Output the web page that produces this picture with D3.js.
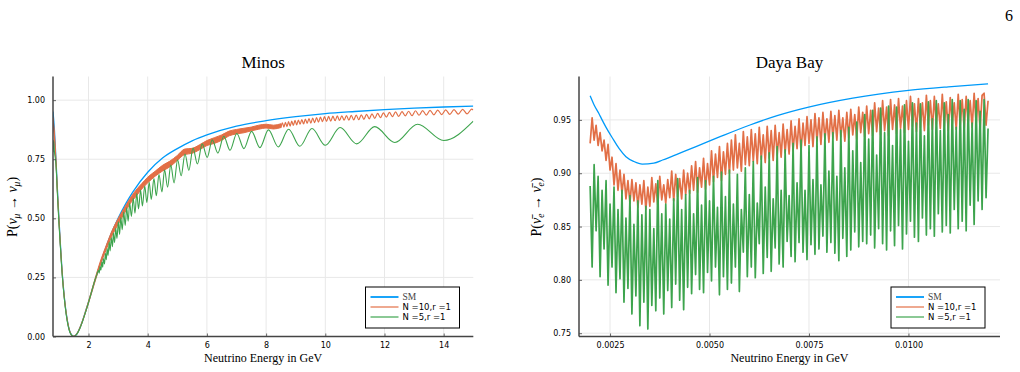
<!DOCTYPE html>
<html>
<head>
<meta charset="utf-8">
<script src="https://cdn.jsdelivr.net/npm/d3@7.9.0/dist/d3.min.js"></script>
<style>
  body { margin: 0; background: #fff; }
  .tick text { font-family: "DejaVu Sans", sans-serif; font-size: 8px; fill: #000; }
  .serif { font-family: "Liberation Serif", "DejaVu Serif", serif; }
  .sans { font-family: "DejaVu Sans", sans-serif; }
</style>
</head>
<body>
<svg id="chart" width="1020" height="372"></svg>
<script>
// ---- Minos panel ----
const minosXTicks = [2, 4, 6, 8, 10, 12, 14];
const minosYTicks = [0, 0.25, 0.5, 0.75, 1.0];

const minosSmE = [0.8,0.85,0.9,0.95,1.0,1.05,1.1,1.15,1.2,1.3,1.4,1.5,1.6,1.7,1.8,1.9,2.0,2.25,2.5,2.75,3.0,3.25,3.5,4.0,4.5,5.0,5.5,6.0,7.0,8.0,9.0,10,11,12,13,14,15];
const minosSmP = [0.952,0.87,0.75,0.62,0.50,0.39,0.29,0.21,0.146,0.057,0.012,0.0,0.01,0.034,0.067,0.106,0.146,0.25,0.345,0.43,0.50,0.56,0.612,0.695,0.755,0.795,0.828,0.853,0.89,0.913,0.93,0.943,0.952,0.96,0.966,0.971,0.975];

// N=10: dense band (low/high edge) up to 8.5 GeV, then resolved wiggles
const minosN10BandE = [0.8,0.85,0.9,0.95,1.0,1.05,1.1,1.15,1.2,1.3,1.4,1.5,1.6,1.7,1.8,1.9,2.0,2.2,2.4,2.6,2.8,3.0,3.2,3.4,3.6,3.8,4.0,4.25,4.5,4.75,5.0,5.25,5.5,5.75,6.0,6.25,6.5,6.75,7.0,7.25,7.5,7.75,8.0,8.25,8.5];
const minosN10Lo = [0.912,0.84,0.735,0.605,0.49,0.382,0.284,0.205,0.142,0.055,0.011,0.0,0.009,0.032,0.064,0.102,0.141,0.224,0.303,0.368,0.428,0.474,0.519,0.561,0.592,0.624,0.650,0.678,0.700,0.718,0.745,0.770,0.775,0.790,0.808,0.817,0.830,0.849,0.857,0.862,0.870,0.877,0.882,0.878,0.884];
const minosN10Hi = [0.926,0.856,0.746,0.614,0.497,0.388,0.289,0.209,0.146,0.058,0.013,0.002,0.012,0.036,0.069,0.108,0.149,0.236,0.318,0.386,0.449,0.499,0.542,0.584,0.619,0.647,0.674,0.699,0.724,0.742,0.766,0.793,0.796,0.811,0.829,0.841,0.853,0.869,0.876,0.881,0.886,0.894,0.898,0.894,0.900];
const minosN10WaveE = [8.500,8.550,8.601,8.653,8.705,8.758,8.812,8.866,8.921,8.977,9.033,9.091,9.148,9.207,9.266,9.326,9.387,9.449,9.511,9.574,9.639,9.704,9.769,9.836,9.904,9.973,10.042,10.113,10.184,10.257,10.331,10.405,10.481,10.558,10.636,10.715,10.796,10.877,10.960,11.044,11.130,11.216,11.305,11.394,11.485,11.577,11.671,11.767,11.864,11.962,12.063,12.165,12.268,12.374,12.481,12.591,12.702,12.815,12.930,13.047,13.167,13.288,13.412,13.538,13.667,13.798,13.931,14.068,14.207,14.348,14.493,14.640,14.791,14.944,15.0];
const minosN10WaveP = [0.884,0.904,0.886,0.906,0.888,0.909,0.890,0.911,0.893,0.914,0.895,0.916,0.898,0.918,0.899,0.920,0.902,0.922,0.903,0.924,0.905,0.926,0.907,0.928,0.909,0.930,0.910,0.931,0.911,0.932,0.913,0.933,0.914,0.934,0.915,0.935,0.915,0.936,0.916,0.937,0.917,0.938,0.919,0.940,0.921,0.942,0.923,0.944,0.926,0.946,0.928,0.948,0.930,0.950,0.931,0.951,0.933,0.953,0.934,0.955,0.936,0.956,0.937,0.957,0.938,0.958,0.939,0.959,0.940,0.960,0.941,0.961,0.942,0.962,0.958];

// N=5: smooth part then peaks / troughs
const minosN5E = [0.80,0.82,0.85,0.90,0.95,1.00,1.10,1.20,1.30,1.40,1.50,1.60,1.70,1.80,1.90,2.00,2.10,2.20,2.28,
  2.34,2.36,2.39,2.42,2.45,2.48,2.50,2.54,2.57,2.60,2.63,2.66,2.70,2.73,2.77,2.81,2.84,2.88,2.92,2.96,3.01,3.05,3.09,3.14,3.19,3.24,3.29,3.34,3.39,3.45,3.51,3.57,3.63,3.69,3.76,3.82,3.90,3.97,4.05,4.12,4.21,4.29,4.38,4.48,4.57,4.67,4.78,4.89,5.01,5.13,5.26,5.39,5.53,5.68,5.84,6.01,6.18,6.37,6.57,6.78,7.01,7.25,7.51,7.79,8.08,8.41,8.76,9.14,9.55,10.00,10.50,11.06,11.67,12.35,13.12,14.00,15.00];
const minosN5P = [0.78,0.83,0.78,0.73,0.60,0.48,0.28,0.14,0.052,0.010,0.0,0.009,0.032,0.065,0.103,0.143,0.188,0.232,0.262,
  0.280,0.268,0.296,0.281,0.315,0.293,0.330,0.307,0.352,0.325,0.372,0.343,0.400,0.362,0.418,0.380,0.438,0.398,0.458,0.415,0.485,0.432,0.503,0.452,0.527,0.470,0.545,0.488,0.565,0.508,0.585,0.522,0.605,0.540,0.620,0.552,0.637,0.567,0.652,0.580,0.668,0.596,0.685,0.612,0.705,0.632,0.725,0.650,0.748,0.680,0.772,0.703,0.797,0.730,0.815,0.758,0.832,0.776,0.847,0.788,0.859,0.795,0.868,0.799,0.874,0.802,0.877,0.805,0.880,0.809,0.884,0.815,0.888,0.821,0.898,0.829,0.911];

// ---- Daya Bay panel ----
const dayaXTicks = [0.0025, 0.0050, 0.0075, 0.0100];
const dayaYTicks = [0.75, 0.80, 0.85, 0.90, 0.95];

const dayaSmE = [0.0020,0.0021,0.00222,0.0023,0.0024,0.00256,0.00273,0.0029,0.0031,0.00331,0.0036,0.00382,0.00424,0.00466,0.00525,0.0060,0.0067,0.00749,0.0086,0.0100,0.0110,0.0120];
const dayaSmP = [0.9726,0.964,0.956,0.950,0.943,0.933,0.923,0.9155,0.911,0.9086,0.9095,0.9124,0.9187,0.925,0.934,0.945,0.954,0.962,0.9704,0.9776,0.981,0.9838];

// sampled every 0.00005 GeV from 0.002 to 0.012
const dayaStart = 0.002;
const dayaStep = 0.00005;
const dayaN10P = [
  0.928,0.952,0.931,0.945,0.926,0.938,0.921,0.931,0.912,0.927,
  0.903,0.915,0.889,0.909,0.884,0.903,0.881,0.899,0.876,0.893,
  0.872,0.894,0.874,0.891,0.868,0.889,0.871,0.893,0.866,0.887,
  0.869,0.896,0.873,0.890,0.870,0.897,0.875,0.889,0.872,0.894,
  0.877,0.902,0.874,0.899,0.878,0.895,0.876,0.903,0.880,0.900,
  0.881,0.907,0.884,0.911,0.882,0.905,0.887,0.914,0.885,0.909,
  0.889,0.921,0.892,0.918,0.896,0.925,0.893,0.920,0.899,0.928,
  0.900,0.931,0.903,0.936,0.905,0.928,0.902,0.939,0.908,0.934,
  0.907,0.941,0.911,0.937,0.909,0.943,0.913,0.936,0.910,0.944,
  0.914,0.940,0.912,0.945,0.917,0.938,0.915,0.946,0.919,0.941,
  0.918,0.949,0.921,0.944,0.923,0.951,0.920,0.947,0.926,0.953,
  0.928,0.950,0.925,0.956,0.930,0.952,0.927,0.957,0.932,0.951,
  0.929,0.958,0.933,0.954,0.931,0.959,0.934,0.952,0.930,0.957,
  0.933,0.960,0.936,0.955,0.932,0.962,0.938,0.957,0.934,0.963,
  0.937,0.959,0.935,0.966,0.939,0.961,0.936,0.968,0.940,0.962,
  0.935,0.969,0.941,0.964,0.937,0.970,0.942,0.963,0.938,0.968,
  0.941,0.972,0.944,0.965,0.939,0.970,0.943,0.966,0.940,0.973,
  0.945,0.968,0.941,0.972,0.946,0.965,0.942,0.974,0.944,0.967,
  0.940,0.971,0.946,0.966,0.941,0.974,0.945,0.969,0.942,0.972,
  0.947,0.968,0.943,0.975,0.946,0.970,0.941,0.973,0.975,0.945,
  0.968];
const dayaN5P = [
  0.888,0.812,0.908,0.846,0.897,0.803,0.884,0.829,0.893,0.795,
  0.871,0.812,0.887,0.788,0.866,0.801,0.884,0.779,0.858,0.792,
  0.879,0.768,0.852,0.785,0.874,0.757,0.861,0.779,0.869,0.754,
  0.866,0.776,0.848,0.771,0.893,0.783,0.862,0.768,0.871,0.790,
  0.857,0.774,0.876,0.796,0.895,0.781,0.866,0.772,0.880,0.793,
  0.884,0.787,0.862,0.805,0.896,0.791,0.870,0.788,0.893,0.807,
  0.874,0.799,0.897,0.812,0.868,0.786,0.901,0.803,0.878,0.791,
  0.903,0.797,0.871,0.812,0.899,0.789,0.866,0.826,0.905,0.803,
  0.880,0.812,0.911,0.802,0.872,0.834,0.916,0.806,0.887,0.821,
  0.919,0.808,0.876,0.830,0.925,0.815,0.884,0.812,0.922,0.836,
  0.879,0.822,0.928,0.817,0.891,0.835,0.931,0.826,0.884,0.819,
  0.926,0.833,0.894,0.824,0.934,0.829,0.889,0.841,0.937,0.826,
  0.902,0.835,0.938,0.825,0.897,0.818,0.940,0.839,0.905,0.822,
  0.943,0.828,0.921,0.845,0.948,0.831,0.910,0.836,0.955,0.834,
  0.932,0.842,0.959,0.830,0.917,0.848,0.961,0.834,0.938,0.828,
  0.963,0.846,0.926,0.832,0.962,0.851,0.941,0.829,0.964,0.843,
  0.930,0.855,0.966,0.840,0.947,0.836,0.965,0.858,0.935,0.842,
  0.967,0.848,0.951,0.841,0.968,0.862,0.940,0.845,0.966,0.851,
  0.955,0.844,0.969,0.866,0.943,0.848,0.968,0.855,0.960,0.846,
  0.969,0.870,0.947,0.852,0.968,0.874,0.958,0.866,0.969,0.877,
  0.942];

const seriesNames = ['SM', 'N =10,r =1', 'N =5,r =1'];
const colors = ['#009af9', '#e26f46', '#3da44d'];

const svg = d3.select('#chart');
const zip = (xs, ys) => xs.map((x, i) => [x, ys[i]]);

function drawPanel(p) {
  const x = d3.scaleLinear().domain(p.xDomain).range([p.left, p.right]);
  const y = d3.scaleLinear().domain(p.yDomain).range([p.bottom, p.top]);
  const g = svg.append('g');

  svg.append('clipPath').attr('id', 'clip-' + p.id)
    .append('rect')
    .attr('x', p.left).attr('y', p.top)
    .attr('width', p.right - p.left).attr('height', p.bottom - p.top);

  // gridlines
  const grid = g.append('g').attr('stroke', '#e8e8e8').attr('stroke-width', 1);
  grid.selectAll('.gx').data(p.xTicks).join('line')
    .attr('x1', d => x(d)).attr('x2', d => x(d))
    .attr('y1', p.top).attr('y2', p.bottom);
  grid.selectAll('.gy').data(p.yTicks).join('line')
    .attr('x1', p.left).attr('x2', p.right)
    .attr('y1', d => y(d)).attr('y2', d => y(d));

  // series
  const plot = g.append('g').attr('clip-path', `url(#clip-${p.id})`)
    .attr('fill', 'none').attr('stroke-linejoin', 'round');
  p.draw(plot, x, y);

  // axes
  const xAxis = d3.axisBottom(x).tickValues(p.xTicks).tickFormat(p.xFormat)
    .tickSizeInner(-3).tickSizeOuter(0).tickPadding(6);
  const yAxis = d3.axisLeft(y).tickValues(p.yTicks).tickFormat(p.yFormat)
    .tickSizeInner(-3).tickSizeOuter(0).tickPadding(8);
  const gx = g.append('g').attr('transform', `translate(0,${p.bottom})`).call(xAxis);
  gx.select('.domain').attr('d', `M${p.left},0H${p.right}`);
  const gy = g.append('g').attr('transform', `translate(${p.left},0)`).call(yAxis);
  gy.select('.domain').attr('d', `M0,${p.top}V${p.bottom}`);
  g.selectAll('.domain').attr('stroke', '#444').attr('stroke-width', 1.5);
  g.selectAll('.tick line').attr('stroke', '#444').attr('stroke-width', 0.8);

  // title
  g.append('text').attr('class', 'serif')
    .attr('x', (p.left + p.right) / 2).attr('y', 68)
    .attr('text-anchor', 'middle').attr('font-size', 17)
    .text(p.title);

  // x label
  g.append('text').attr('class', 'serif')
    .attr('x', (p.left + p.right) / 2).attr('y', 362)
    .attr('text-anchor', 'middle').attr('font-size', 12)
    .text('Neutrino Energy in GeV');

  // y label P(nu -> nu)
  const nu = p.bar ? 'ν\u0304' : 'ν';
  const yl = g.append('text').attr('class', 'serif')
    .attr('transform', `translate(${p.yLabelX},207) rotate(-90)`)
    .attr('text-anchor', 'middle').attr('font-size', 14);
  yl.append('tspan').text('P(');
  yl.append('tspan').attr('font-style', 'italic').text(nu);
  yl.append('tspan').attr('font-style', 'italic').attr('font-size', 9.5).attr('dy', 3).text(p.flavour);
  yl.append('tspan').attr('dy', -3).text(' → ');
  yl.append('tspan').attr('font-style', 'italic').text(nu);
  yl.append('tspan').attr('font-style', 'italic').attr('font-size', 9.5).attr('dy', 3).text(p.flavour);
  yl.append('tspan').attr('dy', -3).text(')');

  // legend
  const lg = g.append('g').attr('transform', `translate(${p.legendX},287)`);
  lg.append('rect').attr('width', 94).attr('height', 41)
    .attr('fill', '#fff').attr('stroke', '#000').attr('stroke-width', 1);
  seriesNames.forEach((name, i) => {
    const ly = 10 + i * 10;
    lg.append('line').attr('x1', 5).attr('x2', 33).attr('y1', ly).attr('y2', ly)
      .attr('stroke', colors[i]).attr('stroke-width', i === 0 ? 1.8 : 1.2);
    lg.append('text').attr('class', i === 0 ? 'serif' : 'sans')
      .attr('x', 37).attr('y', ly + 3)
      .attr('font-size', i === 0 ? 9.5 : 8.5)
      .attr('fill', i === 0 ? '#444' : '#000')
      .text(name);
  });
}

drawPanel({
  id: 'minos', title: 'Minos',
  left: 53, right: 473.3, top: 76.5, bottom: 336.5,
  xDomain: [0.8, 15], yDomain: [0, 1.1],
  xTicks: minosXTicks, yTicks: minosYTicks,
  xFormat: d3.format('d'), yFormat: d3.format('.2f'),
  yLabelX: 17, flavour: 'μ', bar: false, legendX: 365.5,
  draw(plot, x, y) {
    const line = d3.line().x(d => x(d[0])).y(d => y(d[1])).curve(d3.curveMonotoneX);
    plot.append('path').datum(zip(minosSmE, minosSmP))
      .attr('d', line).attr('stroke', colors[0]).attr('stroke-width', 1.3);
    const band = d3.area().x(d => x(d[0])).y0(d => y(d[1])).y1(d => y(d[2]))
      .curve(d3.curveMonotoneX);
    plot.append('path').datum(minosN10BandE.map((e, i) => [e, minosN10Lo[i], minosN10Hi[i]]))
      .attr('d', band).attr('fill', colors[1]).attr('stroke', colors[1]).attr('stroke-width', 1);
    plot.append('path').datum(zip(minosN10WaveE, minosN10WaveP))
      .attr('d', line).attr('stroke', colors[1]).attr('stroke-width', 1.2);
    plot.append('path').datum(zip(minosN5E, minosN5P))
      .attr('d', line).attr('stroke', colors[2]).attr('stroke-width', 1.1);
  }
});

drawPanel({
  id: 'daya', title: 'Daya Bay',
  left: 579, right: 1000, top: 76.5, bottom: 336.5,
  xDomain: [0.00172, 0.0123], yDomain: [0.7469, 0.9907],
  xTicks: dayaXTicks, yTicks: dayaYTicks,
  xFormat: d3.format('.4f'), yFormat: d3.format('.2f'),
  yLabelX: 541, flavour: 'e', bar: true, legendX: 891,
  draw(plot, x, y) {
    const smooth = d3.line().x(d => x(d[0])).y(d => y(d[1])).curve(d3.curveMonotoneX);
    const line = d3.line().x((d, i) => x(dayaStart + i * dayaStep)).y(d => y(d));
    plot.append('path').datum(zip(dayaSmE, dayaSmP))
      .attr('d', smooth).attr('stroke', colors[0]).attr('stroke-width', 1.3);
    plot.append('path').datum(dayaN10P)
      .attr('d', line).attr('stroke', colors[1]).attr('stroke-width', 1.7);
    plot.append('path').datum(dayaN5P)
      .attr('d', line).attr('stroke', colors[2]).attr('stroke-width', 1.7);
  }
});

// page number
svg.append('text').attr('class', 'serif')
  .attr('x', 1009).attr('y', 21).attr('text-anchor', 'middle').attr('font-size', 16)
  .text('6');
</script>
</body>
</html>
